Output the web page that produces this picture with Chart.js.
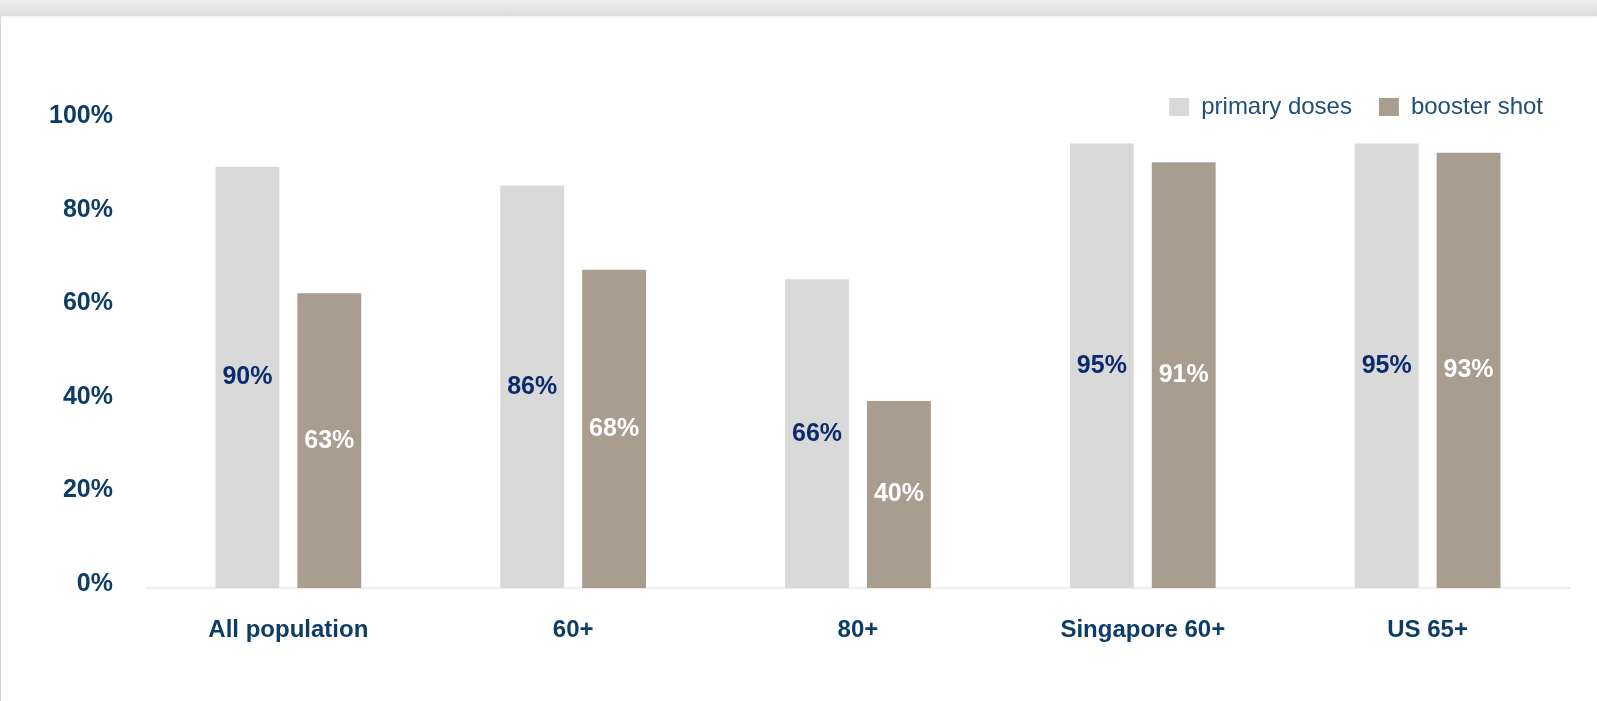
<!DOCTYPE html>
<html>
<head>
<meta charset="utf-8">
<title>Vaccination coverage</title>
<script src="https://cdn.jsdelivr.net/npm/chart.js@4.4.1/dist/chart.umd.min.js"></script>
<style>
  html, body { margin: 0; padding: 0; background: #fff; }
  #wrap { position: relative; width: 1597px; height: 701px; overflow: hidden; }
  #topbar {
    position: absolute; left: 0; top: 0; width: 100%; height: 16px;
    background: linear-gradient(#efefef, #dcdcdc);
    box-shadow: 0 1px 2px rgba(0,0,0,0.08);
    z-index: 2;
  }
  #leftline { position: absolute; left: 0; top: 16px; width: 1px; height: 685px; background: #d6d6d6; z-index: 2; }
  #chart { position: absolute; left: 0; top: 0; }
</style>
</head>
<body>
<div id="wrap">
  <div id="topbar"></div>
  <div id="leftline"></div>
  <canvas id="chart" width="1597" height="701"></canvas>
</div>
<script>
const categories = ['All population', '60+', '80+', 'Singapore 60+', 'US 65+'];
const primaryDoses = [90, 86, 66, 95, 95];
const boosterShot = [63, 68, 40, 91, 93];
const yTicks = [0, 20, 40, 60, 80, 100];

const primaryColor = '#d9d9d9';
const boosterColor = '#a99d8f';
const axisText = '#0d3d66';
const fontFamily = '"Liberation Sans", Arial, Helvetica, sans-serif';

// pull the plot area up closer to the legend
const legendTighten = {
    id: 'legendTighten',
    beforeInit(chart) {
        const fit = chart.legend.fit;
        chart.legend.fit = function () {
            fit.bind(chart.legend)();
            this.height -= 9;
        };
    }
};

// value labels in the middle of each bar
const barLabels = {
    id: 'barLabels',
    afterDatasetsDraw(chart) {
        const ctx = chart.ctx;
        ctx.save();
        ctx.font = 'bold 25px ' + fontFamily;
        ctx.textAlign = 'center';
        ctx.textBaseline = 'middle';
        chart.data.datasets.forEach((ds, i) => {
            const meta = chart.getDatasetMeta(i);
            meta.data.forEach((bar, j) => {
                ctx.fillStyle = ds.labelColor;
                ctx.fillText(ds.data[j] + '%', bar.x, (bar.y + bar.base) / 2);
            });
        });
        ctx.restore();
    }
};

new Chart(document.getElementById('chart'), {
    type: 'bar',
    data: {
        labels: categories,
        datasets: [
            {
                label: 'primary doses',
                data: primaryDoses,
                backgroundColor: primaryColor,
                labelColor: '#0b2a6e',
                categoryPercentage: 0.575,
                barPercentage: 0.78
            },
            {
                label: 'booster shot',
                data: boosterShot,
                backgroundColor: boosterColor,
                labelColor: '#ffffff',
                categoryPercentage: 0.575,
                barPercentage: 0.78
            }
        ]
    },
    options: {
        responsive: false,
        animation: false,
        layout: {
            autoPadding: false,
            padding: { top: 68, left: 16, right: 27, bottom: 28 }
        },
        plugins: {
            legend: {
                position: 'top',
                align: 'end',
                labels: {
                    boxWidth: 20,
                    boxHeight: 18,
                    padding: 27,
                    color: '#1f4e79',
                    font: { family: fontFamily, size: 24 }
                }
            },
            tooltip: { enabled: false }
        },
        scales: {
            x: {
                grid: { display: false, drawTicks: false },
                border: { display: true, color: '#eeeeee', width: 2 },
                ticks: {
                    color: axisText,
                    padding: 28,
                    font: { family: fontFamily, size: 24, weight: 'bold' }
                }
            },
            y: {
                min: 0,
                max: 100,
                afterBuildTicks(scale) {
                    scale.ticks = yTicks.map(v => ({ value: v }));
                },
                grid: { display: false, drawTicks: false },
                border: { display: false },
                ticks: {
                    color: axisText,
                    padding: 33,
                    labelOffset: -4,
                    font: { family: fontFamily, size: 25, weight: 'bold' },
                    callback: v => v + '%'
                }
            }
        }
    },
    plugins: [legendTighten, barLabels]
});
</script>
</body>
</html>
